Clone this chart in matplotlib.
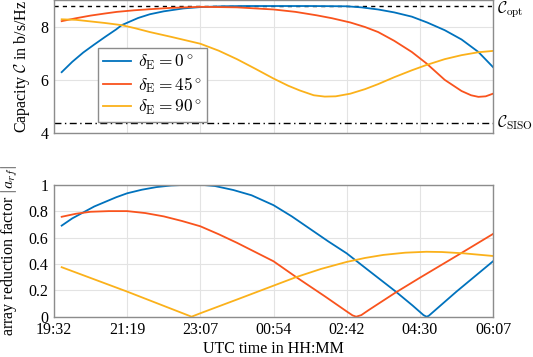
import matplotlib
matplotlib.use("Agg")
from matplotlib import pyplot as plt

# x positions in tick units (0 = 19:32 ... 6 = 06:07)
tick_labels = ["19:32", "21:19", "23:07", "00:54", "02:42", "04:30", "06:07"]

# capacity (top panel)
cap_x_0 = [0.105, 0.25, 0.4, 0.55, 0.7, 0.85, 0.925, 1.0, 1.15, 1.31, 1.5, 1.77, 2.0, 2.3, 2.6,
	3.0, 3.5, 4.0, 4.2, 4.43, 4.65, 4.89, 5.1, 5.34, 5.57, 5.8, 6.0]
cap_y_0 = [6.29, 6.68, 7.03, 7.33, 7.62, 7.90, 8.06, 8.15, 8.33, 8.47, 8.58, 8.69, 8.74, 8.77, 8.78,
	8.78, 8.78, 8.77, 8.73, 8.65, 8.54, 8.38, 8.16, 7.87, 7.52, 7.05, 6.48]

cap_x_45 = [0.105, 0.3, 0.5, 0.7, 0.86, 1.1, 1.31, 1.6, 2.0, 2.5, 3.0, 3.3, 3.59, 3.8, 4.05,
	4.25, 4.43, 4.65, 4.89, 5.09, 5.34, 5.57, 5.7, 5.8, 5.9, 6.0]
cap_y_45 = [8.21, 8.32, 8.42, 8.50, 8.56, 8.62, 8.66, 8.71, 8.75, 8.73, 8.65, 8.56, 8.43, 8.32, 8.16,
	7.99, 7.80, 7.47, 7.05, 6.62, 6.00, 5.58, 5.42, 5.36, 5.38, 5.48]

cap_x_90 = [0.105, 0.3, 0.5, 0.7, 0.925, 1.1, 1.31, 1.6, 2.0, 2.25, 2.5, 2.75, 3.0, 3.2, 3.36,
	3.55, 3.7, 3.85, 4.05, 4.25, 4.43, 4.65, 4.89, 5.09, 5.34, 5.57, 5.8, 6.0]
cap_y_90 = [8.28, 8.26, 8.20, 8.14, 8.06, 7.95, 7.80, 7.62, 7.36, 7.10, 6.78, 6.42, 6.05, 5.78, 5.60,
	5.42, 5.37, 5.38, 5.48, 5.65, 5.84, 6.10, 6.36, 6.56, 6.78, 6.93, 7.04, 7.09]

c_opt = 8.79
c_siso = 4.38

# array reduction factor (bottom panel)
arf_x_0 = [0.105, 0.25, 0.4, 0.55, 0.7, 0.85, 1.0, 1.2, 1.4, 1.6, 1.8, 2.0, 2.2, 2.45, 2.7, 3.0,
	3.25, 3.5, 3.75, 4.0, 4.3, 4.66, 4.9, 5.05, 5.09, 5.12, 5.5, 6.0]
arf_y_0 = [0.69, 0.745, 0.79, 0.835, 0.87, 0.905, 0.935, 0.962, 0.982, 0.994, 0.999, 1.0, 0.99, 0.96, 0.92, 0.845,
	0.76, 0.665, 0.57, 0.48, 0.35, 0.195, 0.085, 0.012, 0.0, 0.006, 0.19, 0.42]

arf_x_45 = [0.105, 0.3, 0.5, 0.75, 1.0, 1.25, 1.5, 1.75, 2.0, 2.25, 2.5, 2.75, 3.0, 3.31, 3.7,
	4.0, 4.08, 4.13, 4.2, 4.3, 4.66, 5.0, 5.5, 6.0]
arf_y_45 = [0.757, 0.78, 0.795, 0.80, 0.80, 0.785, 0.76, 0.725, 0.685, 0.625, 0.56, 0.49, 0.42, 0.30, 0.155,
	0.04, 0.01, 0.0, 0.012, 0.05, 0.18, 0.295, 0.46, 0.627]

arf_x_90 = [0.105, 1.0, 1.88, 2.0, 2.5, 3.0, 3.31, 3.65, 4.0, 4.25, 4.5, 4.8, 5.09, 5.3, 5.6, 6.0]
arf_y_90 = [0.375, 0.19, 0.0, 0.026, 0.13, 0.235, 0.30, 0.362, 0.415, 0.445, 0.468, 0.485, 0.492, 0.49, 0.48, 0.46]

colors = ["#0072BD", "#F9531D", "#FBB11A"]
labels = [r"$\delta_\mathrm{E} = 0^\circ$", r"$\delta_\mathrm{E} = 45^\circ$", r"$\delta_\mathrm{E} = 90^\circ$"]

plt.rcParams["font.family"] = ["Liberation Serif", "DejaVu Serif"]
plt.rcParams["mathtext.fontset"] = "cm"
plt.rcParams["font.size"] = 11.5

fig = plt.figure(figsize=(5.33, 3.57), dpi=100)
ax1 = fig.add_axes([0.1013, 0.6275, 0.8237, 0.372])
ax2 = fig.add_axes([0.1013, 0.1129, 0.8237, 0.3697])

for ax in (ax1, ax2):
	ax.set_xlim(0, 6)
	ax.set_xticks(range(7))
	ax.grid(True, color="#e3e3e3", lw=0.8)
	ax.set_axisbelow(True)
	ax.tick_params(length=0, pad=4)
	for sp in ax.spines.values():
		sp.set_color("#8c8c8c")
		sp.set_linewidth(1.0)

# top panel
ax1.axhline(c_opt, color="k", ls=(0, (3, 3)), lw=1.0)
ax1.axhline(c_siso, color="k", ls=(0, (5, 2.5, 1, 2.5)), lw=1.0)
ax1.plot(cap_x_0, cap_y_0, color=colors[0], lw=1.3, label=labels[0])
ax1.plot(cap_x_45, cap_y_45, color=colors[1], lw=1.3, label=labels[1])
ax1.plot(cap_x_90, cap_y_90, color=colors[2], lw=1.3, label=labels[2])
ax1.set_ylim(4, 9)
ax1.set_yticks([4, 6, 8])
ax1.set_xticklabels([])
ax1.set_ylabel(r"Capacity $\mathcal{C}$ in b/s/Hz", labelpad=6)
ax1.annotate(r"$\mathcal{C}_\mathrm{opt}$", (6, c_opt), xytext=(3, -3),
	textcoords="offset points", va="center", ha="left", annotation_clip=False)
ax1.annotate(r"$\mathcal{C}_\mathrm{SISO}$", (6, c_siso), xytext=(3, 0),
	textcoords="offset points", va="center", ha="left", annotation_clip=False)
leg = ax1.legend(loc="upper left", bbox_to_anchor=(0.10, 0.64), borderaxespad=0,
	fancybox=False, edgecolor="#8c8c8c", framealpha=1, handlelength=1.6,
	handletextpad=0.4, labelspacing=0.15, borderpad=0.3, fontsize=12.5)
leg.get_frame().set_linewidth(1.0)

# bottom panel
ax2.plot(arf_x_0, arf_y_0, color=colors[0], lw=1.3)
ax2.plot(arf_x_45, arf_y_45, color=colors[1], lw=1.3)
ax2.plot(arf_x_90, arf_y_90, color=colors[2], lw=1.3)
ax2.set_ylim(0, 1)
ax2.set_yticks([0, 0.2, 0.4, 0.6, 0.8, 1])
ax2.set_yticklabels(["0", "0.2", "0.4", "0.6", "0.8", "1"])
ax2.set_xticklabels(tick_labels)
ax2.set_ylabel(r"array reduction factor $|a_{rf}|$", labelpad=6)
ax2.set_xlabel("UTC time in HH:MM", labelpad=2)

fig.savefig("out.png", dpi=100)
